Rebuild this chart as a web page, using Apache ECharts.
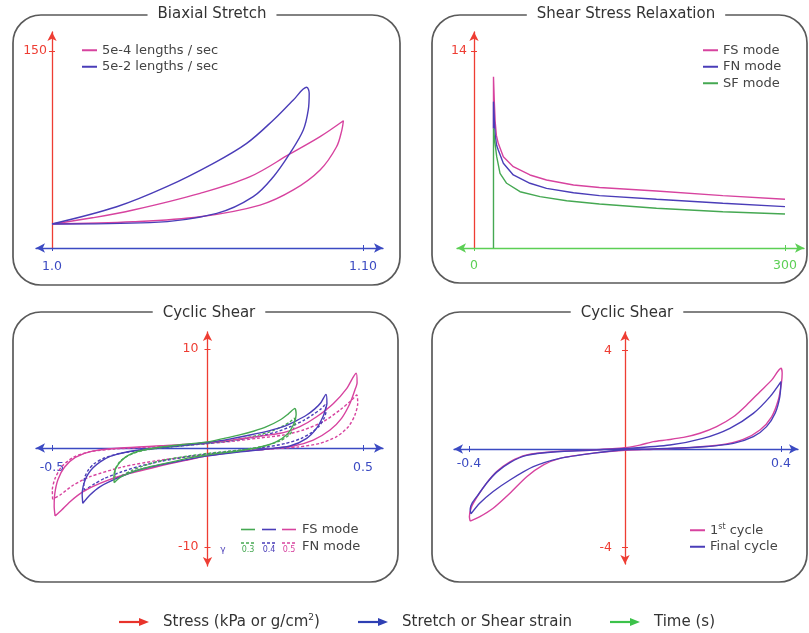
<!DOCTYPE html>
<html>
<head>
<meta charset="utf-8">
<script src="https://cdn.jsdelivr.net/npm/echarts@6/dist/echarts.min.js"></script>
<style>
  html, body { margin: 0; padding: 0; background: #fff; }
  #chart { width: 809px; height: 633px; }
</style>
</head>
<body>
<div id="chart"></div>
<script>
// ---------- Biaxial stretch: stretch ratio vs stress ----------
const biaxialSlowLoading = [[1.0000,18.3],[1.0130,23.0],[1.0261,28.9],[1.0476,41.6],[1.0637,54.3],[1.0765,71.6],[1.0862,84.8],[1.0937,96.9]];
const biaxialSlowUnloading = [[1.0937,96.9],[1.0932,89.8],[1.0915,77.1],[1.0862,59.4],[1.0776,44.2],[1.0669,32.7],[1.0476,23.8],[1.0261,20.0],[1.0000,18.3]];
const biaxialFastLoading = [[1.0000,18.3],[1.0208,31.4],[1.0369,46.7],[1.0519,64.5],[1.0626,79.7],[1.0712,97.5],[1.0776,112.7],[1.0819,122.4]];
const biaxialFastUnloading = [[1.0819,122.4],[1.0827,117.8],[1.0824,105.1],[1.0808,89.8],[1.0765,72.1],[1.0712,54.3],[1.0647,39.1],[1.0530,26.4],[1.0315,19.3],[1.0000,18.3]];
const biaxialNames = ['5e-4 lengths / sec', '5e-2 lengths / sec'];
const biaxialXTicks = [1.0, 1.1];
const biaxialXTickText = ['1.0', '1.10'];
const biaxialYTicks = [150];

// ---------- Shear stress relaxation: time (s) vs stress ----------
// the step from zero is shared by all three modes; it is carried by the SF trace,
// which is drawn on top, so FS and FN are listed from the top of that step
const relaxFS = [[18.8,8.5],[18.8,12.17],[19.6,10.4],[20.4,9.0],[21.6,8.0],[23.4,7.44],[28.3,6.49],[37.9,5.78],[54,5.19],[70,4.83],[96,4.48],[121,4.3],[176,4.05],[240,3.72],[300,3.46]];
const relaxFN = [[18.8,8.5],[18.8,10.4],[19.6,9.1],[20.5,8.0],[21.8,7.3],[23.4,6.97],[28.3,6.02],[37.9,5.19],[54,4.6],[70,4.24],[96,3.93],[121,3.72],[176,3.46],[240,3.18],[300,2.94]];
const relaxSF = [[18.8,0],[18.8,8.5],[19.6,7.9],[20.3,7.44],[21.9,6.49],[25.1,5.31],[31.5,4.6],[44.4,4.0],[63.7,3.65],[89.4,3.36],[121,3.13],[176,2.82],[240,2.58],[300,2.42]];
const relaxNames = ['FS mode', 'FN mode', 'SF mode'];
const relaxXTicks = [0, 300];
const relaxYTicks = [14];

// ---------- Cyclic shear at three strain amplitudes (FS solid, FN dashed) ----------
const shearFS03Up = [[-0.3,-3.5],[-0.301,-2.9],[-0.297,-2.2],[-0.288,-1.7],[-0.276,-1.25],[-0.255,-0.75],[-0.22,-0.3],[-0.16,0.05],[-0.08,0.35],[0,0.62],[0.05,0.95],[0.1,1.3],[0.15,1.72],[0.19,2.15],[0.233,2.83],[0.26,3.45],[0.281,4.0]];
const shearFS03Down = [[0.281,4.0],[0.285,3.35],[0.277,2.4],[0.258,1.45],[0.222,0.65],[0.17,0.1],[0.1,-0.3],[0.04,-0.52],[0,-0.7],[-0.06,-1.0],[-0.11,-1.38],[-0.185,-1.89],[-0.239,-2.39],[-0.281,-2.96],[-0.3,-3.5]];
const shearFN03Up = [[-0.297,-3.06],[-0.298,-2.5],[-0.294,-1.95],[-0.284,-1.45],[-0.268,-1.0],[-0.24,-0.55],[-0.2,-0.2],[-0.13,0.08],[-0.06,0.3],[0,0.5],[0.06,0.72],[0.12,1.0],[0.17,1.35],[0.21,1.75],[0.245,2.25],[0.265,2.62],[0.279,3.0]];
const shearFN03Down = [[0.279,3.0],[0.282,2.5],[0.276,1.9],[0.262,1.3],[0.235,0.75],[0.19,0.25],[0.13,-0.1],[0.06,-0.35],[0,-0.55],[-0.06,-0.8],[-0.12,-1.1],[-0.17,-1.45],[-0.21,-1.85],[-0.245,-2.3],[-0.27,-2.7],[-0.288,-2.95],[-0.297,-3.06]];
const shearFS04Up = [[-0.401,-5.59],[-0.403,-4.7],[-0.4,-3.9],[-0.393,-3.2],[-0.383,-2.6],[-0.368,-2.0],[-0.345,-1.4],[-0.313,-0.85],[-0.26,-0.4],[-0.18,-0.05],[-0.09,0.25],[0,0.55],[0.07,0.9],[0.137,1.31],[0.2,1.75],[0.244,2.15],[0.285,2.75],[0.319,3.33],[0.345,3.95],[0.365,4.6],[0.381,5.42]];
const shearFS04Down = [[0.381,5.42],[0.384,4.5],[0.378,3.8],[0.372,3.2],[0.351,2.0],[0.319,0.98],[0.265,0.2],[0.18,-0.15],[0.1,-0.4],[0,-0.8],[-0.11,-1.45],[-0.22,-2.2],[-0.29,-3.05],[-0.345,-3.9],[-0.378,-4.75],[-0.401,-5.59]];
const shearFN04Up = [[-0.396,-4.34],[-0.398,-3.6],[-0.394,-2.9],[-0.383,-2.2],[-0.365,-1.6],[-0.335,-1.05],[-0.29,-0.6],[-0.22,-0.25],[-0.12,0.1],[0,0.45],[0.08,0.75],[0.15,1.1],[0.22,1.6],[0.27,2.2],[0.31,2.8],[0.34,3.4],[0.365,3.95],[0.378,4.34]];
const shearFN04Down = [[0.378,4.34],[0.381,3.7],[0.375,3.0],[0.36,2.25],[0.335,1.55],[0.3,0.95],[0.25,0.45],[0.18,0.05],[0.1,-0.25],[0,-0.6],[-0.08,-0.95],[-0.15,-1.35],[-0.22,-1.85],[-0.28,-2.45],[-0.33,-3.05],[-0.365,-3.65],[-0.385,-4.05],[-0.396,-4.34]];
const shearFS05Up = [[-0.49,-6.87],[-0.493,-5.9],[-0.491,-4.6],[-0.481,-3.2],[-0.46,-1.95],[-0.425,-0.95],[-0.37,-0.32],[-0.28,0.0],[-0.15,0.22],[-0.05,0.4],[0,0.55],[0.08,0.82],[0.16,1.15],[0.244,1.55],[0.297,2.15],[0.351,3.16],[0.405,4.5],[0.448,6.03],[0.478,7.55]];
const shearFS05Down = [[0.478,7.55],[0.481,6.6],[0.474,5.86],[0.458,4.5],[0.431,3.0],[0.394,1.82],[0.34,0.8],[0.276,0.2],[0.18,-0.15],[0.1,-0.35],[0,-0.8],[-0.07,-1.25],[-0.163,-1.89],[-0.27,-2.73],[-0.346,-3.57],[-0.4,-4.41],[-0.442,-5.42],[-0.469,-6.26],[-0.49,-6.87]];
const shearFN05Up = [[-0.498,-5.18],[-0.499,-4.24],[-0.49,-3.06],[-0.469,-1.89],[-0.431,-0.94],[-0.378,-0.37],[-0.3,-0.1],[-0.18,0.1],[-0.07,0.3],[0,0.45],[0.08,0.68],[0.16,0.98],[0.244,1.31],[0.308,1.82],[0.372,2.66],[0.426,3.84],[0.464,4.85],[0.48,5.35]];
const shearFN05Down = [[0.48,5.35],[0.483,4.5],[0.474,3.33],[0.453,2.15],[0.415,1.14],[0.362,0.47],[0.29,0.1],[0.2,-0.1],[0.1,-0.33],[0,-0.65],[-0.08,-0.95],[-0.163,-1.28],[-0.27,-1.89],[-0.378,-2.9],[-0.431,-3.74],[-0.474,-4.75],[-0.498,-5.18]];
const shearAmplitudes = ['0.3', '0.4', '0.5'];
const shearXTicks = [-0.5, 0.5];
const shearYTicks = [-10, 10];

// ---------- Cyclic shear: first vs final cycle ----------
const cycleFirstUp = [[-0.397,-2.93],[-0.399,-2.75],[-0.393,-2.34],[-0.376,-1.87],[-0.355,-1.39],[-0.329,-0.92],[-0.295,-0.52],[-0.252,-0.24],[-0.184,-0.11],[-0.081,-0.04],[0,0.05],[0.038,0.16],[0.073,0.3],[0.107,0.37],[0.15,0.47],[0.192,0.64],[0.235,0.91],[0.278,1.31],[0.312,1.79],[0.346,2.33],[0.376,2.8],[0.4,3.28]];
const cycleFirstDown = [[0.4,3.28],[0.403,3.08],[0.401,2.67],[0.393,1.99],[0.376,1.31],[0.346,0.77],[0.303,0.39],[0.244,0.16],[0.158,0.05],[0.073,-0.01],[0,-0.05],[-0.081,-0.17],[-0.167,-0.38],[-0.209,-0.65],[-0.252,-1.13],[-0.295,-1.8],[-0.338,-2.41],[-0.372,-2.75],[-0.397,-2.93]];
const cycleFinalUp = [[-0.395,-2.64],[-0.397,-2.45],[-0.392,-2.2],[-0.376,-1.85],[-0.355,-1.39],[-0.329,-0.94],[-0.295,-0.55],[-0.252,-0.26],[-0.184,-0.12],[-0.081,-0.04],[0,0.02],[0.115,0.16],[0.2,0.43],[0.269,0.84],[0.329,1.45],[0.372,2.13],[0.4,2.74]];
const cycleFinalDown = [[0.4,2.74],[0.397,2.13],[0.385,1.45],[0.363,0.91],[0.329,0.5],[0.278,0.23],[0.2,0.09],[0.073,0.0],[0,-0.03],[-0.081,-0.17],[-0.167,-0.38],[-0.235,-0.72],[-0.295,-1.26],[-0.338,-1.73],[-0.372,-2.2],[-0.395,-2.64]];
const cycleNames = ['1st cycle', 'Final cycle'];
const cycleXTicks = [-0.4, 0.4];
const cycleYTicks = [-4, 4];

// ---------- Panel titles and axis key ----------
const panelTitles = ['Biaxial Stretch', 'Shear Stress Relaxation', 'Cyclic Shear', 'Cyclic Shear'];
const axisKey = ['Stress (kPa or g/cm{sup|2})', 'Stretch or Shear strain', 'Time (s)'];

// ---------- Styling ----------
const FONT = 'DejaVu Sans';
const PINK = '#d7439f';
const BLUE = '#4a3db8';
const GREEN = '#45a852';
const AX_RED = '#ee3d33';
const AX_BLUE = '#3b4ac2';
const AX_GREEN = '#5ccf55';
const TXT = '#444';
const ARROW = [7, 9];

const loop = (a, b) => a.concat(b.slice(1));

// panel extents (value ranges of each plotting area)
const P1 = { x: [0.994855, 1.106431], y: [0, 164.47] };
const P2 = { x: [-16.40, 318.33], y: [0, 15.35] };
const P3 = { x: [-0.55145, 0.56431], y: [-11.919, 11.717] };
const P4 = { x: [-0.43846, 0.44359], y: [-4.675, 4.756] };

const hidden = (grid, r) => ({ type: 'value', gridIndex: grid, show: false, min: r[0], max: r[1] });

// visible axis: line with arrows, ticks pointing outward, labels
function shownAxis(grid, r, color, ticks, arrows, margin, fmt, pos) {
  return {
    type: 'value', gridIndex: grid, min: r[0], max: r[1], position: pos,
    axisLine: { show: true, onZero: false, symbol: arrows, symbolSize: ARROW, lineStyle: { color: color, width: 1.3 } },
    axisTick: { show: true, customValues: ticks, length: 3, lineStyle: { color: color, width: 1 } },
    axisLabel: { show: true, customValues: ticks, color: color, fontFamily: FONT, fontSize: 12.5, margin: margin, formatter: fmt },
    splitLine: { show: false }
  };
}
// companion axis carrying only the inner half of each tick so ticks cross the line
function innerTicks(grid, r, color, ticks, pos) {
  return {
    type: 'value', gridIndex: grid, min: r[0], max: r[1], position: pos,
    axisLine: { show: false, onZero: false },
    axisTick: { show: true, inside: true, customValues: ticks, length: 3, lineStyle: { color: color, width: 1 } },
    axisLabel: { show: false }, splitLine: { show: false }
  };
}
function lineSeries(name, xi, data, color, dashed, extra) {
  return Object.assign({
    type: 'line', name: name, xAxisIndex: xi, yAxisIndex: xi, data: data,
    showSymbol: false, symbol: 'none', smooth: 0.25, z: 3,
    lineStyle: { color: color, width: 1.4, type: dashed ? [3, 2] : 'solid' },
    itemStyle: { color: color }
  }, extra || {});
}

const panelBoxes = [
  { x: 13, y: 15, w: 387, h: 270 },
  { x: 432, y: 15, w: 375, h: 268 },
  { x: 13, y: 312, w: 385, h: 270 },
  { x: 432, y: 312, w: 375, h: 270 }
];
const titleAnchors = [[212, 14], [626, 14], [209, 313], [627, 313]];

const graphics = [];
panelBoxes.forEach(b => graphics.push({
  type: 'rect', shape: { x: b.x, y: b.y, width: b.w, height: b.h, r: 28 },
  style: { fill: 'none', stroke: '#5a5a5a', lineWidth: 1.7 }, silent: true
}));
panelTitles.forEach((t, i) => graphics.push({
  type: 'text', x: titleAnchors[i][0], y: titleAnchors[i][1],
  style: { text: t, fill: '#333', font: '15px "' + FONT + '"', align: 'center', verticalAlign: 'middle', backgroundColor: '#fff', padding: [2, 10] },
  silent: true
}));

// key for the amplitude panel: three solid samples (FS) and three dashed samples (FN)
const keyColors = [GREEN, BLUE, PINK];
const keyX = [241, 262, 282];
keyColors.forEach((c, i) => {
  graphics.push({ type: 'line', shape: { x1: keyX[i], y1: 529.5, x2: keyX[i] + 14, y2: 529.5 }, style: { stroke: c, lineWidth: 1.6 }, silent: true });
  graphics.push({ type: 'line', shape: { x1: keyX[i], y1: 543, x2: keyX[i] + 14, y2: 543 }, style: { stroke: c, lineWidth: 1.4, lineDash: [3, 2] }, silent: true });
  graphics.push({ type: 'text', x: keyX[i] + 7, y: 550, style: { text: shearAmplitudes[i], fill: c, font: '8px "' + FONT + '"', align: 'center', verticalAlign: 'middle' }, silent: true });
});
graphics.push({ type: 'text', x: 223, y: 550, style: { text: 'γ', fill: BLUE, font: '9px "' + FONT + '"', align: 'center', verticalAlign: 'middle' }, silent: true });
graphics.push({ type: 'text', x: 302, y: 530, style: { text: 'FS mode', fill: TXT, font: '13px "' + FONT + '"', verticalAlign: 'middle' }, silent: true });
graphics.push({ type: 'text', x: 302, y: 546.5, style: { text: 'FN mode', fill: TXT, font: '13px "' + FONT + '"', verticalAlign: 'middle' }, silent: true });

// axis colour key along the bottom
const keyArrowX = [119, 358, 610];
const keyArrowColors = ['#e8332b', '#2e3fb3', '#3cc24a'];
keyArrowX.forEach((x0, i) => {
  graphics.push({ type: 'line', shape: { x1: x0, y1: 622, x2: x0 + 22, y2: 622 }, style: { stroke: keyArrowColors[i], lineWidth: 2.2 }, silent: true });
  graphics.push({ type: 'polygon', shape: { points: [[x0 + 20, 618], [x0 + 30, 622], [x0 + 20, 626]] }, style: { fill: keyArrowColors[i] }, silent: true });
  graphics.push({ type: 'text', x: x0 + 44, y: 622, style: { text: axisKey[i], fill: '#333', font: '15px "' + FONT + '"', verticalAlign: 'middle', rich: { sup: { fontSize: 9, padding: [0, 0, 8, 0], fill: '#333', fontFamily: FONT } } }, silent: true });
});

const legendBase = {
  orient: 'vertical', icon: 'rect', itemWidth: 15, itemHeight: 2, itemGap: 2, padding: 0,
  selectedMode: false, textStyle: { fontFamily: FONT, fontSize: 13, color: TXT, lineHeight: 14.5 }
};

const noBounds = { outerBoundsMode: 'none' };
const option = {
  animation: false,
  backgroundColor: '#fff',
  grid: [
    // plotting areas
    Object.assign({ left: 36, top: 32, width: 347, height: 216 }, noBounds),
    Object.assign({ left: 457, top: 32, width: 347, height: 216 }, noBounds),
    Object.assign({ left: 36, top: 332, width: 347, height: 234 }, noBounds),
    Object.assign({ left: 454, top: 332, width: 344, height: 232 }, noBounds),
    // axis carriers placed where the axes cross inside each panel
    Object.assign({ left: 52, top: 32, width: 10, height: 216 }, noBounds),
    Object.assign({ left: 474, top: 32, width: 10, height: 216 }, noBounds),
    Object.assign({ left: 207.5, top: 332, width: 10, height: 234 }, noBounds),
    Object.assign({ left: 36, top: 332, width: 347, height: 116 }, noBounds),
    Object.assign({ left: 625, top: 332, width: 10, height: 232 }, noBounds),
    Object.assign({ left: 454, top: 332, width: 344, height: 117 }, noBounds)
  ],
  xAxis: [
    shownAxis(0, P1.x, AX_BLUE, biaxialXTicks, ['arrow', 'arrow'], 12, v => biaxialXTickText[biaxialXTicks.findIndex(t => Math.abs(t - v) < 1e-6)] || '', 'bottom'),
    shownAxis(1, P2.x, AX_GREEN, relaxXTicks, ['arrow', 'arrow'], 11, undefined, 'bottom'),
    hidden(2, P3.x),
    hidden(3, P4.x),
    innerTicks(0, P1.x, AX_BLUE, [1.1], 'bottom'),
    innerTicks(1, P2.x, AX_GREEN, [300], 'bottom'),
    hidden(4, [0, 1]),
    hidden(5, [0, 1]),
    hidden(6, [0, 1]),
    shownAxis(7, P3.x, AX_BLUE, shearXTicks, ['arrow', 'arrow'], 13, undefined, 'bottom'),
    innerTicks(7, P3.x, AX_BLUE, shearXTicks, 'bottom'),
    hidden(8, [0, 1]),
    shownAxis(9, P4.x, AX_BLUE, cycleXTicks, ['arrow', 'arrow'], 8, undefined, 'bottom'),
    innerTicks(9, P4.x, AX_BLUE, cycleXTicks, 'bottom')
  ],
  yAxis: [
    hidden(0, P1.y),
    hidden(1, P2.y),
    hidden(2, P3.y),
    hidden(3, P4.y),
    shownAxis(4, P1.y, AX_RED, biaxialYTicks, ['none', 'arrow'], 5, undefined, 'left'),
    innerTicks(4, P1.y, AX_RED, biaxialYTicks, 'left'),
    shownAxis(5, P2.y, AX_RED, relaxYTicks, ['none', 'arrow'], 7, undefined, 'left'),
    innerTicks(5, P2.y, AX_RED, relaxYTicks, 'left'),
    shownAxis(6, P3.y, AX_RED, shearYTicks, ['arrow', 'arrow'], 9, undefined, 'left'),
    innerTicks(6, P3.y, AX_RED, shearYTicks, 'left'),
    hidden(7, [0, 1]),
    shownAxis(8, P4.y, AX_RED, cycleYTicks, ['arrow', 'arrow'], 13, undefined, 'left'),
    innerTicks(8, P4.y, AX_RED, cycleYTicks, 'left'),
    hidden(9, [0, 1])
  ],
  legend: [
    Object.assign({}, legendBase, { left: 82, top: 43, data: biaxialNames }),
    Object.assign({}, legendBase, { left: 703, top: 43, data: relaxNames }),
    Object.assign({}, legendBase, {
      left: 690, top: 523, data: cycleNames,
      formatter: n => n === '1st cycle' ? '1{sup|st} cycle' : n,
      textStyle: { fontFamily: FONT, fontSize: 13, color: TXT, lineHeight: 14.5, rich: { sup: { fontSize: 8, padding: [0, 0, 6, 0], color: TXT, fontFamily: FONT } } }
    })
  ],
  graphic: graphics,
  series: [
    lineSeries(biaxialNames[0], 0, loop(biaxialSlowLoading, biaxialSlowUnloading), PINK, false, { smooth: 0.35 }),
    lineSeries(biaxialNames[1], 0, loop(biaxialFastLoading, biaxialFastUnloading), BLUE, false, { smooth: 0.35 }),

    // relaxation traces drawn as polylines so the step stays exactly vertical
    lineSeries(relaxNames[0], 1, relaxFS, PINK, false, { smooth: false }),
    lineSeries(relaxNames[1], 1, relaxFN, BLUE, false, { smooth: false }),
    lineSeries(relaxNames[2], 1, relaxSF, GREEN, false, { smooth: false, z: 5 }),

    lineSeries('FN γ=0.5', 2, loop(shearFN05Up, shearFN05Down), PINK, true),
    lineSeries('FN γ=0.4', 2, loop(shearFN04Up, shearFN04Down), BLUE, true),
    lineSeries('FN γ=0.3', 2, loop(shearFN03Up, shearFN03Down), GREEN, true),
    lineSeries('FS γ=0.5', 2, loop(shearFS05Up, shearFS05Down), PINK),
    lineSeries('FS γ=0.4', 2, loop(shearFS04Up, shearFS04Down), BLUE),
    lineSeries('FS γ=0.3', 2, loop(shearFS03Up, shearFS03Down), GREEN),

    lineSeries(cycleNames[0], 3, loop(cycleFirstUp, cycleFirstDown), PINK),
    lineSeries(cycleNames[1], 3, loop(cycleFinalUp, cycleFinalDown), BLUE)
  ]
};

const chart = echarts.init(document.getElementById('chart'), null, { renderer: 'canvas' });
chart.setOption(option);
</script>
</body>
</html>
